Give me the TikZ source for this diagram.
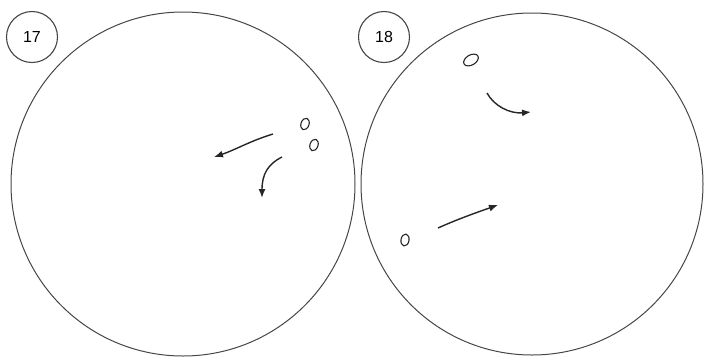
\documentclass[tikz,border=0pt]{standalone}
\usepackage{fontspec}
\setmainfont{Liberation Sans}
\usetikzlibrary{arrows.meta}
\definecolor{inkgray}{RGB}{70,70,70}

\begin{document}
\begin{tikzpicture}[x=1pt,y=-1pt,
disc/.style={draw=inkgray,line width=1pt},
tag/.style={draw=inkgray,circle,line width=1.1pt,minimum size=51pt,inner sep=0pt,font=\fontsize{16}{18}\selectfont},
blob/.style={draw=black!85,line width=1.1pt},
arr/.style={-{Latex[length=9pt,width=7pt]},line width=1.4pt,draw=black!85}
]
\useasboundingbox (0,0) rectangle (707,360);
% the two plates
\draw[disc] (183,184) circle (172);
\draw[disc] (532,184) circle (171);
\node[tag] (t17) at (32,37) {17};
\node[tag] (t18) at (384,37) {18};
% plate 17
\draw[blob,rotate around={-20:(305,124)}] (305,124) ellipse (4 and 6);
\draw[blob,rotate around={-20:(314,145)}] (314,145) ellipse (4 and 6);
\coordinate (a1) at (273,134);
\coordinate (b1) at (214,157);
\coordinate (a2) at (282,157);
\coordinate (b2) at (262,198);
\draw[arr] (a1) .. controls (250,141) and (235,150) .. (b1);
\draw[arr] (a2) .. controls (268,164) and (262,174) .. (b2);
% plate 18
\draw[blob,rotate around={30:(471,60)}] (471,60) ellipse (8 and 5);
\draw[blob,rotate around={-10:(405,240)}] (405,240) ellipse (4 and 6);
\coordinate (a3) at (487,93);
\coordinate (b3) at (531,112);
\coordinate (a4) at (438,228);
\coordinate (b4) at (498,205);
\draw[arr] (a3) .. controls (494,106) and (510,114) .. (b3);
\draw[arr] (a4) .. controls (458,219) and (478,212) .. (b4);
\end{tikzpicture}
\end{document}
